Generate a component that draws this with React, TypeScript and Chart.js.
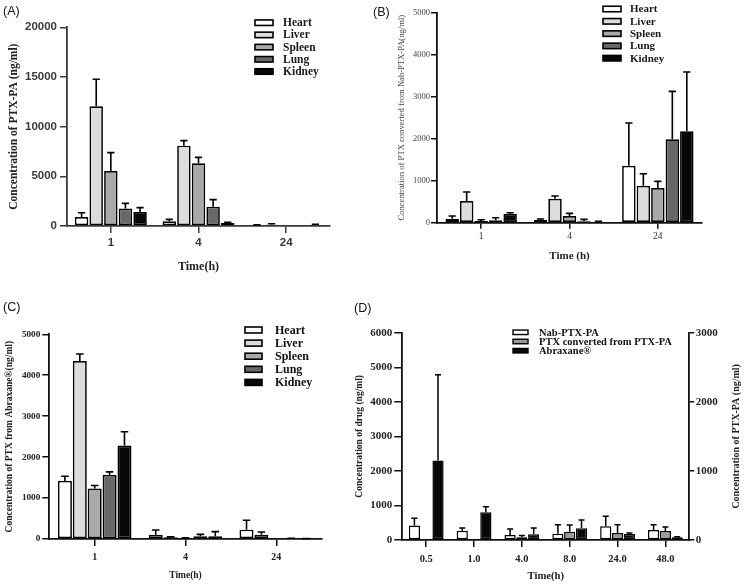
import React, { useEffect, useRef } from 'react';
import { Chart, registerables } from 'chart.js';

Chart.register(...registerables);

const SERIF = '"Liberation Serif", "Times New Roman", serif';
const SANS = '"Liberation Sans", Arial, sans-serif';

// ---------- shared ----------
const organs = ['Heart', 'Liver', 'Spleen', 'Lung', 'Kidney'];
const organColors = ['#ffffff', '#dcdcdc', '#a9a9a9', '#686868', '#080808'];
const timesABC = ['1', '4', '24'];

// ---------- Panel A : PTX-PA (ng/ml) ----------
const aHeart = [910, 470, 100];
const aLiver = [12050, 8090, 130];
const aSpleen = [5540, 6310, 0];
const aLung = [1750, 1950, 0];
const aKidney = [1410, 300, 100];
const aHeartSD = [430, 200, 30];
const aLiverSD = [2720, 500, 100];
const aSpleenSD = [1850, 600, 0];
const aLungSD = [530, 700, 0];
const aKidneySD = [440, 70, 70];

// ---------- Panel B : PTX converted from Nab-PTX-PA ----------
const bHeart = [95, 63, 1357];
const bLiver = [516, 571, 881];
const bSpleen = [40, 159, 825];
const bLung = [56, 32, 1984];
const bKidney = [206, 16, 2175];
const bHeartSD = [64, 24, 1016];
const bLiverSD = [214, 64, 286];
const bSpleenSD = [31, 63, 159];
const bLungSD = [63, 47, 1143];
const bKidneySD = [32, 16, 1412];

// ---------- Panel C : PTX from Abraxane ----------
const cHeart = [1419, 106, 228];
const cLiver = [4347, 41, 106];
const cSpleen = [1232, 25, 0];
const cLung = [1566, 65, 10];
const cKidney = [2284, 65, 5];
const cHeartSD = [114, 114, 229];
const cLiverSD = [172, 10, 65];
const cSpleenSD = [73, 5, 0];
const cLungSD = [74, 49, 10];
const cKidneySD = [334, 114, 5];

// ---------- Panel D : plasma ----------
const timesD = ['0.5', '1.0', '4.0', '8.0', '24.0', '48.0'];
const dSeries = ['Nab-PTX-PA', 'PTX converted from PTX-PA', 'Abraxane®'];
const dColors = ['#ffffff', '#9a9a9a', '#080808'];
const dNab = [210, 135, 73, 92, 198, 145]; // right axis (PTX-PA)
const dNabSD = [103, 39, 87, 130, 145, 77];
const dConverted = [30, 20, 80, 241, 203, 261];
const dConvertedSD = [0, 0, 50, 193, 241, 115];
const dAbraxane = [2300, 801, 170, 338, 174, 77];
const dAbraxaneSD = [2480, 164, 180, 241, 29, 20];

// ---------- plugins ----------
const errorBars = {
  id: 'errorBars',
  afterDatasetsDraw(chart: any, _args: any, opts: any) {
    const ctx = chart.ctx;
    const lw = opts.lineWidth ?? 1.5;
    const capRatio = opts.capRatio ?? 0.27;
    chart.data.datasets.forEach((ds: any, i: number) => {
      const errs = ds.errors;
      if (!errs) return;
      const meta = chart.getDatasetMeta(i);
      const yScale = chart.scales[meta.yAxisID];
      meta.data.forEach((el: any, j: number) => {
        const e = errs[j];
        const v = ds.data[j];
        if (!e) return;
        const p = el.getProps(['x', 'y', 'width'], true);
        const yTop = yScale.getPixelForValue(v + e);
        const half = p.width * capRatio;
        ctx.save();
        ctx.strokeStyle = opts.color ?? '#000';
        ctx.lineWidth = lw;
        ctx.beginPath();
        ctx.moveTo(p.x, p.y);
        ctx.lineTo(p.x, yTop);
        ctx.moveTo(p.x - half, yTop);
        ctx.lineTo(p.x + half, yTop);
        ctx.stroke();
        ctx.restore();
      });
    });
  },
};

const boxLegend = {
  id: 'boxLegend',
  afterDraw(chart: any, _args: any, opts: any) {
    if (!opts || opts.x === undefined) return;
    const ctx = chart.ctx;
    ctx.save();
    ctx.font = opts.font;
    ctx.textBaseline = 'middle';
    ctx.textAlign = 'left';
    chart.data.datasets.forEach((ds: any, i: number) => {
      const cy = opts.y + i * opts.rowHeight;
      ctx.fillStyle = ds.backgroundColor;
      ctx.fillRect(opts.x, cy - opts.boxHeight / 2, opts.boxWidth, opts.boxHeight);
      ctx.strokeStyle = '#000';
      ctx.lineWidth = opts.boxBorder ?? 1.6;
      ctx.strokeRect(opts.x, cy - opts.boxHeight / 2, opts.boxWidth, opts.boxHeight);
      ctx.fillStyle = opts.color ?? '#111';
      ctx.fillText(ds.label, opts.textX, cy + 0.5);
    });
    ctx.restore();
  },
};

const sideTitle = {
  id: 'sideTitle',
  afterDraw(chart: any, _args: any, opts: any) {
    if (!opts || !opts.text) return;
    const ctx = chart.ctx;
    const ca = chart.chartArea;
    ctx.save();
    ctx.translate(opts.x, (ca.top + ca.bottom) / 2);
    ctx.rotate(-Math.PI / 2);
    ctx.font = opts.font;
    ctx.fillStyle = opts.color ?? '#111';
    ctx.textAlign = 'center';
    ctx.textBaseline = 'middle';
    ctx.fillText(opts.text, 0, 0);
    ctx.restore();
  },
};

// ---------- helpers ----------
function organDatasets(values: number[][], errors: number[][], cat: number, bar: number, bw: number) {
  return organs.map((name, i) => ({
    label: name,
    data: values[i],
    errors: errors[i],
    backgroundColor: organColors[i],
    borderColor: '#000',
    borderWidth: bw,
    borderSkipped: false,
    categoryPercentage: cat,
    barPercentage: bar,
  }));
}

function font(family: string, size: number, bold: boolean) {
  return { family, size, weight: bold ? 'bold' : 'normal' };
}

function xAxis(o: any) {
  return {
    type: 'category',
    grid: { display: true, drawOnChartArea: false, drawTicks: true, tickLength: o.tl, offset: false, color: o.axisColor, lineWidth: o.tickWidth },
    border: { display: true, color: o.axisColor, width: o.axisWidth },
    ticks: { font: o.tickFont, color: o.tickColor, padding: o.pad, maxRotation: 0, autoSkip: false },
    title: { display: true, text: o.title, font: o.titleFont, color: o.titleColor, padding: { top: 0, bottom: o.titlePad } },
    afterFit: (s: any) => { s.height = o.height; },
  };
}

function yAxis(o: any) {
  return {
    type: 'linear',
    position: o.position ?? 'left',
    min: 0,
    max: o.max,
    grid: { display: true, drawOnChartArea: false, drawTicks: true, tickLength: o.tl, color: o.axisColor, lineWidth: o.tickWidth },
    border: { display: true, color: o.axisColor, width: o.axisWidth },
    ticks: { stepSize: o.step, font: o.tickFont, color: o.tickColor, padding: o.pad, callback: (v: any) => String(v) },
    title: o.title
      ? { display: true, text: o.title, font: o.titleFont, color: o.titleColor, padding: { top: o.titlePad, bottom: 0 } }
      : { display: false },
    afterFit: (s: any) => { s.width = o.width; },
  };
}

const basePlugins = (extra: any) => ({
  legend: { display: false },
  tooltip: { enabled: false },
  title: { display: false },
  ...extra,
});

function configA(): any {
  return {
    type: 'bar',
    data: {
      labels: timesABC,
      datasets: organDatasets(
        [aHeart, aLiver, aSpleen, aLung, aKidney],
        [aHeartSD, aLiverSD, aSpleenSD, aLungSD, aKidneySD],
        0.834, 0.92, 1.7
      ),
    },
    options: {
      responsive: false,
      animation: false,
      layout: { padding: { left: 0, top: 27.3, right: 42, bottom: 10 } },
      plugins: basePlugins({
        errorBars: { lineWidth: 1.6, capRatio: 0.27 },
        boxLegend: { x: 255, y: 22.7, rowHeight: 12.2, boxWidth: 18, boxHeight: 5.5, textX: 283, font: `bold 11.5px ${SERIF}`, color: '#1a1a1a' },
      }),
      scales: {
        x: xAxis({ tl: 7, axisColor: '#3a3a3a', tickWidth: 1.5, axisWidth: 1.8, tickFont: font(SANS, 11.5, true), tickColor: '#3a3a3a', pad: 3, title: 'Time(h)', titleFont: font(SERIF, 12, true), titleColor: '#222', titlePad: 6.1, height: 54 }),
        y: yAxis({ max: 20000, step: 5000, tl: 7, axisColor: '#3a3a3a', tickWidth: 1.5, axisWidth: 1.8, tickFont: font(SANS, 11.5, true), tickColor: '#3a3a3a', pad: 3, title: 'Concentration of PTX-PA (ng/ml)', titleFont: font(SERIF, 11.5, true), titleColor: '#222', titlePad: 7.1, width: 67 }),
      },
    },
    plugins: [errorBars, boxLegend],
  };
}

function configB(): any {
  return {
    type: 'bar',
    data: {
      labels: timesABC,
      datasets: organDatasets(
        [bHeart, bLiver, bSpleen, bLung, bKidney],
        [bHeartSD, bLiverSD, bSpleenSD, bLungSD, bKidneySD],
        0.82, 0.93, 1.7
      ),
    },
    options: {
      responsive: false,
      animation: false,
      layout: { padding: { left: 0, top: 12.7, right: 43, bottom: 10 } },
      plugins: basePlugins({
        errorBars: { lineWidth: 1.6, capRatio: 0.27 },
        boxLegend: { x: 231, y: 9, rowHeight: 12.3, boxWidth: 18, boxHeight: 5.5, textX: 258, font: `bold 11px ${SERIF}`, color: '#1a1a1a' },
      }),
      scales: {
        x: xAxis({ tl: 6, axisColor: '#111', tickWidth: 1.5, axisWidth: 1.8, tickFont: font(SERIF, 9.5, false), tickColor: '#333', pad: 2.5, title: 'Time (h)', titleFont: font(SERIF, 11, true), titleColor: '#222', titlePad: 17.4, height: 57.3 }),
        y: yAxis({ max: 5000, step: 1000, tl: 6, axisColor: '#111', tickWidth: 1.5, axisWidth: 1.8, tickFont: font(SERIF, 8.5, false), tickColor: '#444', pad: 1, title: 'Concentration of PTX converted from Nab-PTX-PA(ng/ml)', titleFont: font(SERIF, 8.6, false), titleColor: '#444', titlePad: 24.5, width: 65 }),
      },
    },
    plugins: [errorBars, boxLegend],
  };
}

function configC(): any {
  return {
    type: 'bar',
    data: {
      labels: timesABC,
      datasets: organDatasets(
        [cHeart, cLiver, cSpleen, cLung, cKidney],
        [cHeartSD, cLiverSD, cSpleenSD, cLungSD, cKidneySD],
        0.82, 0.94, 1.7
      ),
    },
    options: {
      responsive: false,
      animation: false,
      layout: { padding: { left: 0, top: 44.3, right: 18.3, bottom: 0 } },
      plugins: basePlugins({
        errorBars: { lineWidth: 1.6, capRatio: 0.27 },
        boxLegend: { x: 245, y: 40, rowHeight: 13.1, boxWidth: 17, boxHeight: 6, textX: 275, font: `bold 12px ${SERIF}`, color: '#111' },
      }),
      scales: {
        x: xAxis({ tl: 7, axisColor: '#111', tickWidth: 1.5, axisWidth: 1.8, tickFont: font(SERIF, 10, true), tickColor: '#222', pad: 5, title: 'Time(h)', titleFont: font(SERIF, 9.5, true), titleColor: '#222', titlePad: 3.3, height: 46 }),
        y: yAxis({ max: 5000, step: 1000, tl: 7, axisColor: '#111', tickWidth: 1.5, axisWidth: 1.8, tickFont: font(SERIF, 9.2, true), tickColor: '#222', pad: 2, title: 'Concentration of PTX from Abraxane®(ng/ml)', titleFont: font(SERIF, 9.5, true), titleColor: '#222', titlePad: 3.6, width: 49.3 }),
      },
    },
    plugins: [errorBars, boxLegend],
  };
}

function configD(): any {
  const values = [dNab, dConverted, dAbraxane];
  const errs = [dNabSD, dConvertedSD, dAbraxaneSD];
  const axes = ['y2', 'y', 'y'];
  return {
    type: 'bar',
    data: {
      labels: timesD,
      datasets: dSeries.map((name, i) => ({
        label: name,
        data: values[i],
        errors: errs[i],
        yAxisID: axes[i],
        backgroundColor: dColors[i],
        borderColor: '#000',
        borderWidth: 1.5,
        borderSkipped: false,
        categoryPercentage: 0.74,
        barPercentage: 0.95,
      })),
    },
    options: {
      responsive: false,
      animation: false,
      layout: { padding: { left: 0, top: 42.7, right: 0, bottom: 0 } },
      plugins: basePlugins({
        errorBars: { lineWidth: 1.5, capRatio: 0.27 },
        boxLegend: { x: 173, y: 42.3, rowHeight: 9.2, boxWidth: 15, boxHeight: 4.5, textX: 199, font: `bold 10.5px ${SERIF}`, color: '#111', boxBorder: 1.4 },
        sideTitle: { text: 'Concentration of PTX-PA (ng/ml)', x: 396.7, font: `bold 10px ${SERIF}`, color: '#222' },
      }),
      scales: {
        x: xAxis({ tl: 7, axisColor: '#111', tickWidth: 1.5, axisWidth: 1.8, tickFont: font(SERIF, 10.5, true), tickColor: '#222', pad: 5.5, title: 'Time(h)', titleFont: font(SERIF, 10.7, true), titleColor: '#222', titlePad: 2.6, height: 45 }),
        y: yAxis({ max: 6000, step: 1000, tl: 8, axisColor: '#111', tickWidth: 1.5, axisWidth: 1.8, tickFont: font(SERIF, 11, true), tickColor: '#222', pad: 2, title: 'Concentration of drug (ng/ml)', titleFont: font(SERIF, 9.5, true), titleColor: '#222', titlePad: 14.3, width: 62.3 }),
        y2: yAxis({ position: 'right', max: 3000, step: 1000, tl: 5, axisColor: '#111', tickWidth: 1.5, axisWidth: 1.8, tickFont: font(SERIF, 11, true), tickColor: '#222', pad: 1.5, width: 55.7 }),
      },
    },
    plugins: [errorBars, boxLegend, sideTitle],
  };
}

const labelStyle = (left: number, top: number): React.CSSProperties => ({
  position: 'absolute',
  left,
  top,
  font: `12.5px ${SANS}`,
  lineHeight: '14px',
  color: '#111',
  whiteSpace: 'nowrap',
});

export default function App() {
  const refA = useRef<HTMLCanvasElement>(null);
  const refB = useRef<HTMLCanvasElement>(null);
  const refC = useRef<HTMLCanvasElement>(null);
  const refD = useRef<HTMLCanvasElement>(null);

  useEffect(() => {
    const charts: Chart[] = [];
    if (refA.current) charts.push(new Chart(refA.current, configA()));
    if (refB.current) charts.push(new Chart(refB.current, configB()));
    if (refC.current) charts.push(new Chart(refC.current, configC()));
    if (refD.current) charts.push(new Chart(refD.current, configD()));
    return () => charts.forEach((c) => c.destroy());
  }, []);

  return (
    <div style={{ position: 'absolute', left: 0, top: 0, width: 745, height: 585, background: '#fff', overflow: 'hidden' }}>
      <canvas ref={refA} width={372} height={290} style={{ position: 'absolute', left: 0, top: 0, width: 372, height: 290 }} />
      <canvas ref={refB} width={373} height={290} style={{ position: 'absolute', left: 372, top: 0, width: 373, height: 290 }} />
      <canvas ref={refC} width={340} height={295} style={{ position: 'absolute', left: 0, top: 290, width: 340, height: 295 }} />
      <canvas ref={refD} width={405} height={295} style={{ position: 'absolute', left: 340, top: 290, width: 405, height: 295 }} />
      <div style={labelStyle(3, 4)}>(A)</div>
      <div style={labelStyle(373, 5)}>(B)</div>
      <div style={labelStyle(3, 300)}>(C)</div>
      <div style={labelStyle(354, 301)}>(D)</div>
    </div>
  );
}
